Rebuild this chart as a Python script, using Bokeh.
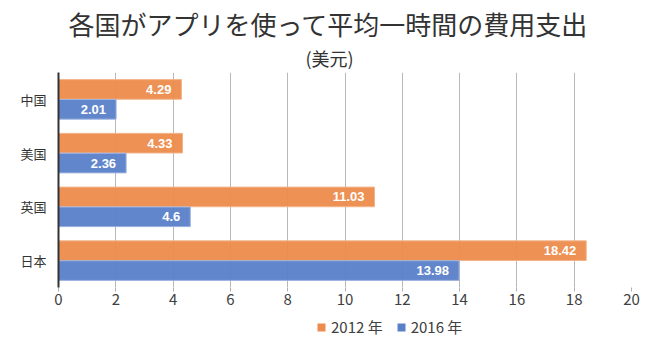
from bokeh.plotting import figure
from bokeh.layouts import column
from bokeh.models import Range1d, FixedTicker, Title, Legend, LegendItem, ColumnDataSource, LabelSet
from bokeh.core.properties import value
from bokeh.embed import file_html
from bokeh.resources import INLINE

countries = ["中国", "美国", "英国", "日本"]
v2012 = [4.29, 4.33, 11.03, 18.42]
v2016 = [2.01, 2.36, 4.6, 13.98]
series_names = ["2012 年", "2016 年"]
x_ticks = [0, 2, 4, 6, 8, 10, 12, 14, 16, 18, 20]

ORANGE = "#EC8B4C"
BLUE = "#5A80C8"
FONT = "Noto Sans CJK SC"

pos = [i + 0.5 for i in range(len(countries))]
off = 0.185
src12 = ColumnDataSource(dict(y=[p - off for p in pos], v=v2012, t=[f"{v:g}" for v in v2012]))
src16 = ColumnDataSource(dict(y=[p + off for p in pos], v=v2016, t=[f"{v:g}" for v in v2016]))

p = figure(width=658, height=312, output_backend="svg", toolbar_location=None,
           x_range=Range1d(0, 20), y_range=Range1d(len(countries), 0),
           min_border_left=58, min_border_right=27, min_border_top=72, min_border_bottom=25)
p.outline_line_color = None
p.background_fill_color = "white"

r12 = p.hbar(y="y", right="v", left=0, height=0.365, source=src12,
             fill_color=ORANGE, line_color="#F3B48A", line_width=1, fill_alpha=0.95)
r16 = p.hbar(y="y", right="v", left=0, height=0.365, source=src16,
             fill_color=BLUE, line_color="#9DB3E0", line_width=1, fill_alpha=0.95)

for s in (src12, src16):
    p.add_layout(LabelSet(x="v", y="y", text="t", source=s, x_offset=-10,
                          text_align="right", text_baseline="middle",
                          text_color="white", text_font_size="13px",
                          text_font=value("Liberation Sans"), text_font_style="bold"))

# x axis
p.xaxis.ticker = FixedTicker(ticks=x_ticks)
p.xaxis.axis_line_color = None
p.xaxis.major_tick_line_color = "#B0B0B0"
p.xaxis.major_tick_out = 4
p.xaxis.major_tick_in = 0
p.xaxis.minor_tick_line_color = None
p.xaxis.major_label_text_font = FONT
p.xaxis.major_label_text_font_size = "15px"
p.xaxis.major_label_text_color = "#404040"
p.xaxis.major_label_standoff = 2

# y axis
p.yaxis.ticker = FixedTicker(ticks=pos)
p.yaxis.major_label_overrides = {pp: c for pp, c in zip(pos, countries)}
p.yaxis.axis_line_color = "#333333"
p.yaxis.axis_line_width = 2
p.yaxis.major_tick_line_color = None
p.yaxis.minor_tick_line_color = None
p.yaxis.major_label_text_font = FONT
p.yaxis.major_label_text_font_size = "13px"
p.yaxis.major_label_text_color = "#333333"
p.yaxis.major_label_standoff = 6

p.xgrid.ticker = FixedTicker(ticks=x_ticks)
p.xgrid.grid_line_color = "#B8B8B8"
p.ygrid.grid_line_color = None

p.add_layout(Title(text="(美元)", align="left", text_font=FONT, text_font_size="18px",
                   text_font_style="normal", text_color="#333333", standoff=3, offset=247), "above")
p.add_layout(Title(text="各国がアプリを使って平均一時間の費用支出", align="left", text_font=FONT,
                   text_font_size="26px", text_font_style="normal", text_color="#333333",
                   standoff=0, offset=10), "above")

# legend strip below the chart (same series, drawn out of view; only the legend shows)
lg = figure(width=658, height=40, output_backend="svg", toolbar_location=None,
            x_range=Range1d(0, 20), y_range=Range1d(100, 101),
            min_border=0)
lg.axis.visible = False
lg.grid.visible = False
lg.outline_line_color = None
d12 = lg.hbar(y="y", right="v", left=0, height=0.365, source=src12,
              fill_color=ORANGE, line_color=None)
d16 = lg.hbar(y="y", right="v", left=0, height=0.365, source=src16,
              fill_color=BLUE, line_color=None)
legend = Legend(items=[LegendItem(label=series_names[0], renderers=[d12]),
                       LegendItem(label=series_names[1], renderers=[d16])],
                orientation="horizontal", location=(258, 15),
                label_text_font=FONT, label_text_font_size="15px", label_text_color="#404040",
                glyph_width=10, glyph_height=10, spacing=13, label_standoff=5,
                border_line_color=None, background_fill_alpha=0, margin=0, padding=2)
lg.add_layout(legend)

layout = column(p, lg, spacing=0)
open("out.html", "w").write(file_html(layout, INLINE))
